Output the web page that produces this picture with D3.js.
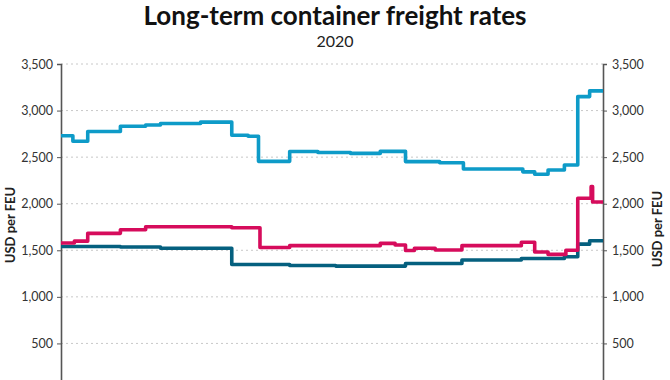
<!DOCTYPE html>
<html>
<head>
<meta charset="utf-8">
<script src="https://cdn.jsdelivr.net/npm/d3@7"></script>
<style>
  html, body { margin: 0; padding: 0; background: #fff; }
  svg { display: block; font-family: Lato, "Open Sans", sans-serif; }
</style>
</head>
<body>
<svg id="chart" width="670" height="380"></svg>
<script>
// ---- Data ----
const title = "Long-term container freight rates";
const subtitle = "2020";
const axisLabel = "USD per FEU";
const yTicks = [500, 1000, 1500, 2000, 2500, 3000, 3500];

// Series 1 (light blue): change points
const blueDates  = ["2020-01-01","2020-01-09","2020-01-19","2020-02-10","2020-02-27","2020-03-08","2020-04-04","2020-04-25","2020-05-06","2020-05-13","2020-06-03","2020-06-22","2020-07-14","2020-08-03","2020-08-20","2020-09-12","2020-09-28","2020-11-07","2020-11-15","2020-11-24","2020-12-05","2020-12-14","2020-12-22","2020-12-31"];
const blueValues = [2730, 2670, 2775, 2832, 2845, 2862, 2876, 2735, 2725, 2455, 2560, 2550, 2540, 2562, 2452, 2440, 2372, 2342, 2316, 2362, 2416, 3150, 3212, 3212];

// Series 2 (crimson): change points
const redDates  = ["2020-01-01","2020-01-10","2020-01-19","2020-02-10","2020-02-27","2020-04-25","2020-05-14","2020-06-03","2020-08-03","2020-08-13","2020-08-20","2020-08-26","2020-09-09","2020-09-27","2020-11-06","2020-11-15","2020-11-24","2020-12-06","2020-12-14","2020-12-23","2020-12-24","2020-12-31"];
const redValues = [1578, 1598, 1682, 1720, 1752, 1742, 1530, 1550, 1574, 1556, 1497, 1522, 1503, 1550, 1586, 1482, 1456, 1500, 2058, 2183, 2018, 2018];

// Series 3 (dark teal): change points
const tealDates  = ["2020-01-01","2020-02-10","2020-03-08","2020-04-25","2020-06-03","2020-07-04","2020-08-20","2020-09-27","2020-11-06","2020-12-05","2020-12-14","2020-12-22","2020-12-31"];
const tealValues = [1540, 1535, 1522, 1348, 1337, 1330, 1358, 1396, 1412, 1430, 1566, 1602, 1602];

// ---- Layout ----
const W = 670, H = 380;
const mLeft = 61, mRight = 603, mTop = 64, mBottom = 390;
const parse = d3.timeParse("%Y-%m-%d");
const svg = d3.select("#chart");

const x = d3.scaleTime()
  .domain([parse("2020-01-01"), parse("2020-12-31")])
  .range([mLeft, mRight]);
const y = d3.scaleLinear().domain([0, 3500]).range([mBottom, mTop]);

// gridlines
svg.append("g").selectAll("line").data(yTicks).join("line")
  .attr("x1", mLeft).attr("x2", mRight)
  .attr("y1", d => y(d)).attr("y2", d => y(d))
  .attr("stroke", "#c8c8c8").attr("stroke-width", 1)
  .attr("stroke-dasharray", "2,3");

// axes
const fmt = d3.format(",");
const yl = svg.append("g").attr("transform", `translate(${mLeft},0)`)
  .call(d3.axisLeft(y).tickValues(yTicks).tickFormat(fmt).tickSize(4).tickPadding(4));
const yr = svg.append("g").attr("transform", `translate(${mRight},0)`)
  .call(d3.axisRight(y).tickValues(yTicks).tickFormat(fmt).tickSize(4).tickPadding(5));
[yl, yr].forEach(g => {
  g.select(".domain").attr("stroke", "#555").attr("stroke-width", 1.6);
  g.selectAll(".tick line").attr("stroke", "#555");
  g.selectAll(".tick text").attr("fill", "#333").style("font-size", "12.5px")
    .style("font-family", "Lato, sans-serif");
});

// axis titles
svg.append("text")
  .attr("transform", `translate(15,225) rotate(-90)`)
  .attr("text-anchor", "middle")
  .style("font-size", "13px").style("font-weight", "700").attr("fill", "#222")
  .text(axisLabel);
svg.append("text")
  .attr("transform", `translate(662,229) rotate(-90)`)
  .attr("text-anchor", "middle")
  .style("font-size", "13px").style("font-weight", "700").attr("fill", "#222")
  .text(axisLabel);

// lines
const line = d3.line().curve(d3.curveStepAfter)
  .x(d => x(d.date)).y(d => y(d.value));
const series = [
  { dates: blueDates, values: blueValues, color: "#0e9bc8" },
  { dates: redDates,  values: redValues,  color: "#d60c5c" },
  { dates: tealDates, values: tealValues, color: "#05607f" }
];
series.slice().reverse().forEach(s => {
  const data = s.dates.map((d, i) => ({ date: parse(d), value: s.values[i] }));
  svg.append("path").datum(data)
    .attr("d", line)
    .attr("fill", "none")
    .attr("stroke", s.color)
    .attr("stroke-width", 3.6)
    .attr("stroke-linejoin", "round");
});

// title
svg.append("text").attr("x", 335).attr("y", 25).attr("text-anchor", "middle")
  .style("font-size", "26px").style("font-weight", "700").attr("fill", "#111")
  .text(title);
svg.append("text").attr("x", 335).attr("y", 47).attr("text-anchor", "middle")
  .style("font-size", "16px").attr("fill", "#222")
  .text(subtitle);
</script>
</body>
</html>
